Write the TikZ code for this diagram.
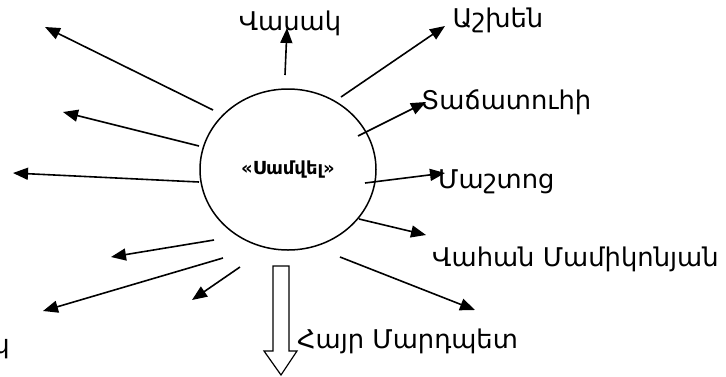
\documentclass[tikz,border=0pt]{standalone}
\usepackage{fontspec}
\setmainfont{DejaVu Sans}
\usetikzlibrary{arrows.meta}
\begin{document}
\begin{tikzpicture}[x=1pt,y=-1pt,
  lbl/.style={inner sep=0pt,font=\fontsize{25.8}{28}\selectfont},
  arr/.style={line width=1.6pt,-{Triangle[length=15pt,width=12pt]}}]
\useasboundingbox (0,0) rectangle (726,376);
\draw[line width=1.5pt] (288,169.5) ellipse [x radius=88, y radius=80.5];
\node[inner sep=0pt,font=\bfseries\fontsize{18}{20}\selectfont] (c) at (288,170) {«Սամվել»};
% labels
\node[lbl] (vasak) at (290,23) {Վասակ};
\node[lbl] (ashkhen) at (498,20) {Աշխեն};
\node[lbl,anchor=west] (tach) at (421,102) {Տաճատուհի};
\node[lbl,anchor=west] (mash) at (438,182) {Մաշտոց};
\node[lbl,anchor=west] (vahan) at (432,259) {Վահան Մամիկոնյան};
\node[lbl,anchor=west] (hayr) at (297,341) {Հայր Մարդպետ};
\node[lbl,anchor=east] (kk) at (10,346) {կ};
% coordinates
\coordinate (s1) at (285,75);  \coordinate (t1) at (287,28);
\coordinate (s2) at (213,110); \coordinate (t2) at (45,27);
\coordinate (s3) at (199,146); \coordinate (t3) at (63,112);
\coordinate (s4) at (199,182); \coordinate (t4) at (13,173);
\coordinate (s5) at (214,240); \coordinate (t5) at (111,257);
\coordinate (s6) at (223,258); \coordinate (t6) at (43,311);
\coordinate (s7) at (240,267); \coordinate (t7) at (192,300);
\coordinate (s9) at (341,97);  \coordinate (t9) at (445,26);
\coordinate (s10) at (358,136); \coordinate (t10) at (426,102);
\coordinate (s11) at (365,183); \coordinate (t11) at (445,173);
\coordinate (s12) at (359,219); \coordinate (t12) at (426,235);
\coordinate (s13) at (340,257); \coordinate (t13) at (475,310);
\foreach \i in {1,2,3,4,5,6,7,9,10,11,12,13} \draw[arr] (s\i) -- (t\i);
% hollow down arrow
\draw[line width=1.2pt,fill=white] (273,266) -- (289,266) -- (289,351) -- (297,351) -- (281,375) -- (264,351) -- (273,351) -- cycle;
\end{tikzpicture}
\end{document}
